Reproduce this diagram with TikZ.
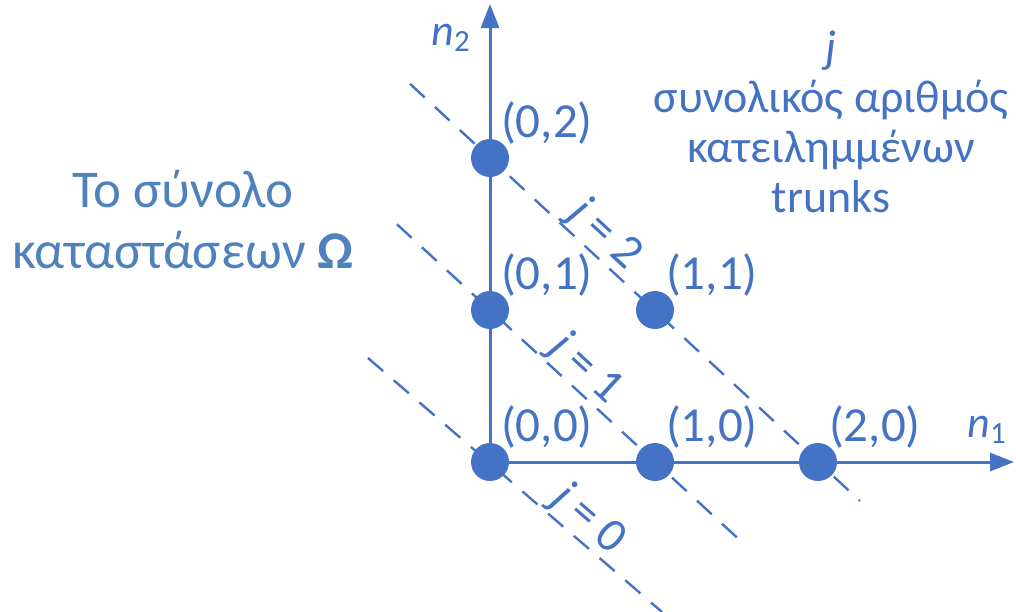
\documentclass[tikz,border=0pt]{standalone}
\usepackage{fontspec}
\setmainfont{Carlito}
\usetikzlibrary{arrows.meta,positioning,calc}
\definecolor{lineblue}{RGB}{68,114,196}
\definecolor{textblue}{RGB}{79,129,189}

\begin{document}
\begin{tikzpicture}[x=0.5pt,y=-0.5pt,>={Triangle[length=12pt,width=9pt]},
  dot/.style={circle,fill=lineblue,minimum size=19pt,inner sep=0pt},
  lbl/.style={font=\fontsize{24.5}{28}\selectfont,text=lineblue,inner sep=1pt},
  pt/.style={lbl,xshift=-2.5pt,yshift=-1pt},
  axis/.style={draw=lineblue,line width=1.5pt,->},
  jline/.style={draw=lineblue,line width=1.2pt,dash pattern=on 10pt off 7pt},
  jlbl/.style={font=\fontsize{24}{28}\selectfont,text=lineblue,sloped,above,inner sep=0pt}]
  \useasboundingbox (0,0) rectangle (1016,611);
  % lattice points
  \node[dot,label={[pt]above right:(0,0)}] (p00) at (490,462) {};
  \node[dot,label={[pt]above right:(1,0)}] (p10) at (655,462) {};
  \node[dot,label={[pt]above right:(2,0)}] (p20) at (818,462) {};
  \node[dot,label={[pt]above right:(0,1)}] (p01) at (490,310) {};
  \node[dot,label={[pt]above right:(1,1)}] (p11) at (655,310) {};
  \node[dot,label={[pt]above right:(0,2)}] (p02) at (490,158) {};
  % axes
  \coordinate (n1tip) at (1014,462);
  \coordinate (n2tip) at (490,4);
  \draw[axis] (p00.center) -- (n1tip);
  \draw[axis] (p00.center) -- (n2tip);
  \node[lbl,font=\fontsize{22}{26}\selectfont] (n1lbl) at (987,430) {\textit{n}\textsubscript{1}};
  \node[lbl,font=\fontsize{22}{26}\selectfont] (n2lbl) at (451,38) {\textit{n}\textsubscript{2}};
  % lines j = n1 + n2
  \draw[jline] ($(p00)+(-122,-104)$) -- node[jlbl,pos=0.70] {\textit{j} = 0} ($(p00)+(172,150)$);
  \draw[jline] ($(p01)!-0.564!(p10)$) -- node[jlbl,pos=0.50] {\textit{j} = 1} ($(p01)!1.545!(p10)$);
  \draw[jline] ($(p02)!-0.244!(p20)$) -- node[jlbl,pos=0.40] {\textit{j} = 2} ($(p02)!1.128!(p20)$);
  % texts
  \node[font=\fontsize{23}{25}\selectfont,text=lineblue,align=center] (jtext) at (831,122) {\textit{j}\\συνολικός αριθμός\\κατειλημμένων\\trunks};
  \node[font=\fontsize{26.5}{30.5}\selectfont,text=textblue,align=center] (omega) at (183,220) {Το σύνολο\\καταστάσεων \textbf{Ω}};
\end{tikzpicture}
\end{document}
